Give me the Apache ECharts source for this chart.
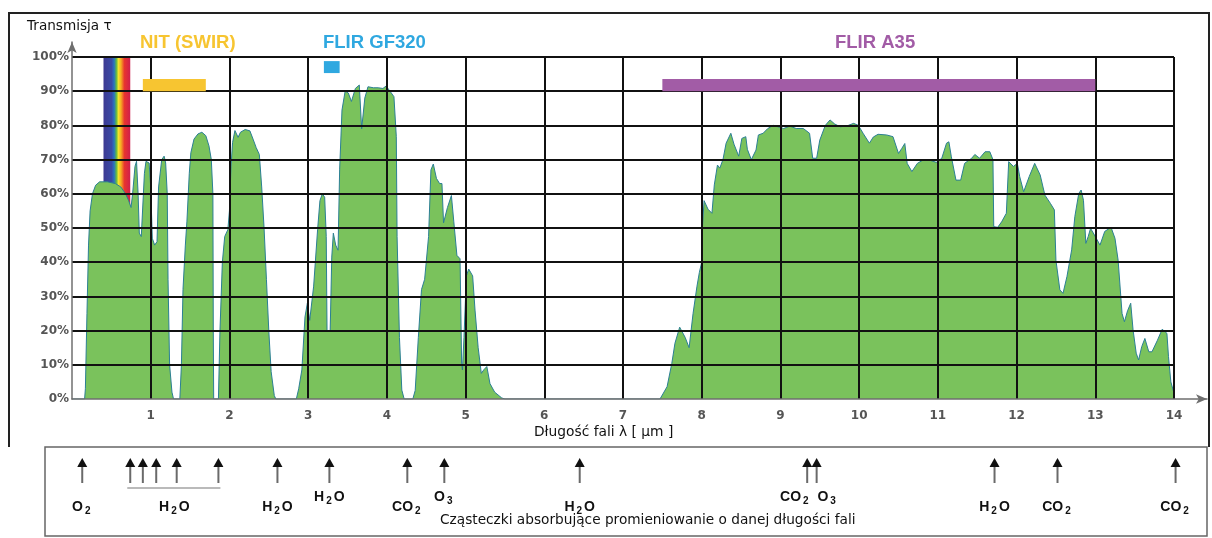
<!DOCTYPE html>
<html>
<head>
<meta charset="utf-8">
<script src="https://cdn.jsdelivr.net/npm/echarts@6/dist/echarts.min.js"></script>
<style>
  html, body { margin: 0; padding: 0; background: #ffffff; }
  #chart { width: 1212px; height: 538px; }
</style>
</head>
<body>
<div id="chart"></div>
<script>
// Atmospheric transmission spectrum: wavelength (µm) vs transmission (%)
const wavelength = [
  0, 0.16, 0.17, 0.19, 0.21, 0.23, 0.26, 0.30, 0.35, 0.45, 0.55, 0.62, 0.68, 0.72, 0.75, 0.77, 0.80, 0.82, 0.84, 0.855,
  0.88, 0.90, 0.92, 0.94, 0.98, 1.00, 1.02, 1.05, 1.08, 1.10, 1.14, 1.17, 1.19, 1.21, 1.22, 1.24, 1.27, 1.29, 1.37, 1.39,
  1.41, 1.44, 1.46, 1.49, 1.51, 1.55, 1.60, 1.65, 1.70, 1.74, 1.77, 1.79, 1.795, 1.80, 1.86, 1.88, 1.91, 1.94, 1.98, 2.00,
  2.02, 2.04, 2.07, 2.09, 2.11, 2.14, 2.20, 2.26, 2.30, 2.34, 2.38, 2.41, 2.44, 2.47, 2.50, 2.53, 2.57, 2.59, 2.85, 2.88,
  2.92, 2.96, 2.99, 3.02, 3.07, 3.12, 3.15, 3.18, 3.21, 3.23, 3.24, 3.28, 3.30, 3.32, 3.35, 3.38, 3.40, 3.43, 3.47, 3.51,
  3.55, 3.60, 3.65, 3.68, 3.72, 3.76, 3.83, 3.89, 3.95, 3.99, 4.04, 4.09, 4.12, 4.13, 4.16, 4.19, 4.22, 4.33, 4.36, 4.40,
  4.44, 4.48, 4.53, 4.56, 4.59, 4.63, 4.67, 4.70, 4.72, 4.77, 4.82, 4.85, 4.89, 4.93, 4.95, 4.96, 4.98, 5.01, 5.04, 5.09,
  5.12, 5.16, 5.20, 5.23, 5.27, 5.31, 5.37, 5.46, 5.50, 7.47, 7.56, 7.62, 7.66, 7.72, 7.79, 7.84, 7.89, 7.94, 7.97, 8.00,
  8.01, 8.03, 8.08, 8.13, 8.16, 8.20, 8.23, 8.27, 8.31, 8.37, 8.41, 8.47, 8.51, 8.56, 8.58, 8.63, 8.69, 8.72, 8.78, 8.84,
  8.91, 8.97, 9.04, 9.12, 9.20, 9.29, 9.37, 9.41, 9.46, 9.50, 9.57, 9.63, 9.69, 9.76, 9.84, 9.93, 9.99, 10.05, 10.13, 10.18,
  10.24, 10.35, 10.43, 10.50, 10.54, 10.58, 10.61, 10.67, 10.74, 10.82, 10.90, 10.98, 11.05, 11.11, 11.14, 11.17, 11.23, 11.29, 11.34, 11.43,
  11.47, 11.53, 11.60, 11.66, 11.70, 11.71, 11.76, 11.81, 11.87, 11.90, 11.96, 12.01, 12.04, 12.09, 12.16, 12.23, 12.30, 12.36, 12.43, 12.48,
  12.50, 12.55, 12.59, 12.64, 12.70, 12.74, 12.79, 12.82, 12.85, 12.88, 12.91, 12.94, 13.00, 13.06, 13.12, 13.20, 13.25, 13.29, 13.34, 13.37,
  13.41, 13.45, 13.48, 13.52, 13.55, 13.59, 13.63, 13.68, 13.72, 13.79, 13.85, 13.91, 13.93, 13.96, 14.00, 14.05
];
const transmission = [
  0, 0, 3, 25, 45, 55, 60, 62.5, 63.5, 63.5, 63, 62, 60, 58, 56, 60, 68, 69.5, 60, 48.5,
  47.5, 48, 66, 69.5, 69, 62, 47, 45, 46, 62, 70, 71, 69, 60, 35, 10, 2, 0, 0, 10,
  32, 45, 52, 66, 72, 76, 77.5, 78, 77, 74, 70, 60, 20, 0, 0, 20, 40, 47.5, 49.5, 55,
  68, 75, 78.5, 77.5, 76.5, 78, 78.8, 78.4, 76, 73.5, 71.5, 62, 50, 35, 20, 8, 1, 0, 0, 3,
  8.5, 24, 28, 23, 33, 49.5, 58, 60, 59, 47.5, 20, 20, 41.5, 48.5, 45, 43.5, 67, 84.5, 90, 89.5,
  87, 90.8, 91.8, 79, 88, 91.3, 91, 91, 90.8, 91.5, 90, 88.4, 76.7, 47.5, 18, 2.6, 0, 0, 2.5, 18,
  32, 35, 47.5, 67, 68.7, 64.5, 63, 63, 51.5, 56, 59.5, 52, 42, 41, 10.5, 8.5, 18, 36, 38, 36,
  26, 15, 7.5, 8.5, 9.5, 4.5, 2, 0.3, 0, 0, 3.6, 10.4, 16.3, 21, 18, 15, 25, 33, 37, 40,
  50.5, 58, 55.5, 54.3, 62.6, 68.4, 67.5, 70, 74.8, 77.7, 74.5, 71, 76.2, 76.7, 73, 70, 72.8, 77.2, 77.7, 79.1,
  80, 79.6, 79.1, 79.8, 79.1, 79.1, 77.7, 70.4, 70.4, 75.7, 80, 81.6, 80.4, 79.6, 79.8, 80.6, 80, 77.7, 74.8, 76.6,
  77.4, 77.2, 76.7, 71.8, 73.2, 74.7, 68.9, 66.5, 68.9, 70, 69.8, 69.2, 70.4, 74.8, 75.2, 71, 64, 64, 68.9, 70.4,
  71.5, 70.4, 72.3, 72.3, 70, 50.4, 50.2, 51.8, 54.3, 69.4, 68, 68.9, 65, 60.6, 65, 68.9, 65.5, 59.6, 57.2, 55.3,
  40.6, 31.9, 30.9, 35.8, 43.6, 53.3, 60.1, 61.1, 58.1, 45.5, 47.5, 49.9, 47.5, 45, 49, 50.2, 47, 40.6, 25, 22.6,
  25.8, 28, 20.2, 13.4, 11.4, 15.3, 17.7, 13.8, 13.8, 17.2, 20.4, 19.2, 12.4, 5, 1.7, 0
];

// Visible light band (µm)
const visibleBand = [0.4, 0.74];

// Camera spectral ranges (µm)
const cameraNames = ['NIT (SWIR)', 'FLIR GF320', 'FLIR A35'];
const cameraFrom = [0.9, 3.2, 7.5];
const cameraTo = [1.7, 3.4, 13.0];

// Absorbing molecules: arrow wavelengths (µm)
const absorptionLines = [0.13, 0.74, 0.90, 1.07, 1.33, 1.86, 2.61, 3.27, 4.26, 4.73, 6.45, 9.34, 9.46, 11.72, 12.52, 14.02];
// Molecule labels on the lower row and on the raised row, centred at the given wavelength
const lowerLabels = ['O2', 'H2O', 'H2O', 'CO2', 'H2O', 'H2O', 'CO2', 'CO2'];
const lowerLabelAt = [0.13, 1.30, 2.61, 4.26, 6.45, 11.72, 12.52, 14.02];
const upperLabels = ['H2O', 'O3', 'CO2', 'O3'];
const upperLabelAt = [3.27, 4.73, 9.19, 9.60];
// Group of water-vapour lines joined by a bracket (µm)
const waterGroup = [0.74, 1.86];

// ---- styles ----
const cameraStyle = [
  { color: '#f7c531', lo: 90.0, hi: 93.6 },
  { color: '#2fa8e0', lo: 95.3, hi: 98.8 },
  { color: '#a25ca6', lo: 90.0, hi: 93.6 }
];
const gridColor = '#111111';
const axisGray = '#6f6f6f';
const labelFont = 'DejaVu Sans';

const chart = echarts.init(document.getElementById('chart'), null, { renderer: 'canvas' });

const spectrum = wavelength.map((w, i) => [w, transmission[i]]);

function subscripted(name) {
  return name.replace(/(\d)/g, '{s|$1}');
}

const option = {
  animation: false,
  backgroundColor: '#ffffff',
  grid: [
    { left: 72, right: 38, top: 57, bottom: 139 },   // plot
    { left: 72, right: 5, top: 42, bottom: 139 },    // axis lines with arrows
    { left: 72, right: 38, top: 447, bottom: 2 }     // molecule strip
  ],
  xAxis: [
    {
      gridIndex: 0, type: 'value', min: 0, max: 14, interval: 1, z: 3,
      axisLine: { show: false }, axisTick: { show: false },
      axisLabel: {
        showMinLabel: false, margin: 11,
        color: '#555', fontFamily: labelFont, fontWeight: 'bold', fontSize: 12
      },
      splitLine: { show: true, showMinLine: false, lineStyle: { color: gridColor, width: 2 } }
    },
    {
      gridIndex: 1, type: 'value', min: 0, max: 14.42, z: 4,
      axisLine: { show: true, symbol: ['none', 'arrow'], symbolSize: [7, 11], lineStyle: { color: axisGray, width: 1.5 } },
      axisTick: { show: false }, axisLabel: { show: false }, splitLine: { show: false }
    },
    {
      gridIndex: 2, type: 'value', min: 0, max: 14, show: false
    }
  ],
  yAxis: [
    {
      gridIndex: 0, type: 'value', min: 0, max: 100, interval: 10, z: 3,
      axisLine: { show: false }, axisTick: { show: false },
      axisLabel: {
        formatter: '{value}%', margin: 3,
        color: '#555', fontFamily: labelFont, fontWeight: 'bold', fontSize: 12
      },
      splitLine: { show: true, showMinLine: false, lineStyle: { color: gridColor, width: 2 } }
    },
    {
      gridIndex: 1, type: 'value', min: 0, max: 104.39, z: 4,
      axisLine: { show: true, symbol: ['none', 'arrow'], symbolSize: [7, 11], lineStyle: { color: axisGray, width: 1.5 } },
      axisTick: { show: false }, axisLabel: { show: false }, splitLine: { show: false }
    },
    {
      gridIndex: 2, type: 'value', min: 0, max: 1, show: false
    }
  ],
  series: [
    {
      // visible light band drawn as a spectrum strip
      type: 'custom', xAxisIndex: 0, yAxisIndex: 0, z: 1,
      data: [visibleBand],
      renderItem(params, api) {
        const a = api.coord([api.value(0), 100]);
        const b = api.coord([api.value(1), 0]);
        return {
          type: 'rect',
          shape: { x: a[0], y: a[1], width: b[0] - a[0], height: b[1] - a[1] },
          style: {
            fill: new echarts.graphic.LinearGradient(0, 0, 1, 0, [
              { offset: 0.00, color: '#3d3a92' },
              { offset: 0.30, color: '#3a4aa6' },
              { offset: 0.40, color: '#2a76c0' },
              { offset: 0.48, color: '#5db748' },
              { offset: 0.56, color: '#f6e42a' },
              { offset: 0.66, color: '#f5a623' },
              { offset: 0.78, color: '#e8352f' },
              { offset: 1.00, color: '#cf1f4c' }
            ])
          }
        };
      }
    },
    {
      type: 'line', xAxisIndex: 0, yAxisIndex: 0, z: 2,
      data: spectrum, showSymbol: false, symbol: 'none',
      lineStyle: { color: '#2b7f93', width: 1 },
      areaStyle: { color: '#7ac25c', opacity: 1 }
    },
    {
      // camera ranges
      type: 'custom', xAxisIndex: 0, yAxisIndex: 0, z: 5,
      data: cameraFrom.map((f, i) => [f, cameraTo[i], i]),
      renderItem(params, api) {
        const st = cameraStyle[api.value(2)];
        const a = api.coord([api.value(0), st.hi]);
        const b = api.coord([api.value(1), st.lo]);
        return {
          type: 'rect',
          shape: { x: a[0], y: a[1], width: b[0] - a[0], height: b[1] - a[1] },
          style: { fill: st.color }
        };
      }
    },
    {
      // absorption arrows
      type: 'custom', xAxisIndex: 2, yAxisIndex: 2, z: 5,
      data: absorptionLines.map(w => [w]),
      renderItem(params, api) {
        const x = api.coord([api.value(0), 0])[0];
        const top = params.coordSys.y + 11;
        return {
          type: 'group',
          children: [
            { type: 'line', shape: { x1: x, y1: top + 7, x2: x, y2: top + 25 }, style: { stroke: '#6a6a6a', lineWidth: 2 } },
            { type: 'polygon', shape: { points: [[x, top], [x - 5, top + 9], [x + 5, top + 9]] }, style: { fill: '#111' } }
          ]
        };
      }
    },
    {
      // molecule names
      type: 'custom', xAxisIndex: 2, yAxisIndex: 2, z: 5,
      data: lowerLabelAt.map((w, i) => [w, 0, i]).concat(upperLabelAt.map((w, i) => [w, 1, i])),
      renderItem(params, api) {
        const x = api.coord([api.value(0), 0])[0];
        const raised = api.value(1) === 1;
        const name = raised ? upperLabels[api.value(2)] : lowerLabels[api.value(2)];
        const y = params.coordSys.y + (raised ? 50 : 60);
        return {
          type: 'text',
          style: {
            x: x, y: y, text: subscripted(name), align: 'center', verticalAlign: 'middle',
            fill: '#111', font: 'bold 14px "Liberation Sans", Arial, sans-serif', lineHeight: 18,
            rich: {
              s: { fontSize: 10, fontWeight: 'bold', fontFamily: 'Liberation Sans', lineHeight: 10, verticalAlign: 'bottom', padding: [0, 2, 0, 2], fill: '#111' }
            }
          }
        };
      }
    },
    {
      // bracket under the grouped water lines
      type: 'custom', xAxisIndex: 2, yAxisIndex: 2, z: 5,
      data: [waterGroup],
      renderItem(params, api) {
        const a = api.coord([api.value(0), 0])[0];
        const b = api.coord([api.value(1), 0])[0];
        const y = params.coordSys.y + 41;
        return { type: 'line', shape: { x1: a - 3, y1: y, x2: b + 2, y2: y }, style: { stroke: '#777', lineWidth: 1.2 } };
      }
    }
  ],
  graphic: [
    { type: 'polyline', z: 10, shape: { points: [[9, 447], [9, 13], [1209, 13], [1209, 447]] }, style: { stroke: '#222', lineWidth: 2, fill: null } },
    { type: 'rect', z: 10, shape: { x: 45, y: 447, width: 1162, height: 89 }, style: { stroke: '#666', lineWidth: 1.5, fill: null } },
    { type: 'text', z: 10, left: 27, top: 19, style: { text: 'Transmisja τ', font: '13.6px "DejaVu Sans"', fill: '#111' } },
    { type: 'text', z: 10, left: 140, top: 33, style: { text: cameraNames[0], font: 'bold 18.5px "Liberation Sans"', fill: '#f7c531' } },
    { type: 'text', z: 10, left: 323, top: 33, style: { text: cameraNames[1], font: 'bold 18.5px "Liberation Sans"', fill: '#2fa8e0' } },
    { type: 'text', z: 10, left: 835, top: 33, style: { text: cameraNames[2], font: 'bold 18.5px "Liberation Sans"', fill: '#a25ca6' } },
    { type: 'text', z: 10, left: 534, top: 425, style: { text: 'Długość fali λ [ µm ]', font: '13.8px "DejaVu Sans"', fill: '#111' } },
    { type: 'text', z: 10, left: 440, top: 513, style: { text: 'Cząsteczki absorbujące promieniowanie o danej długości fali', font: '13.7px "DejaVu Sans"', fill: '#111' } }
  ]
};

chart.setOption(option);
</script>
</body>
</html>
